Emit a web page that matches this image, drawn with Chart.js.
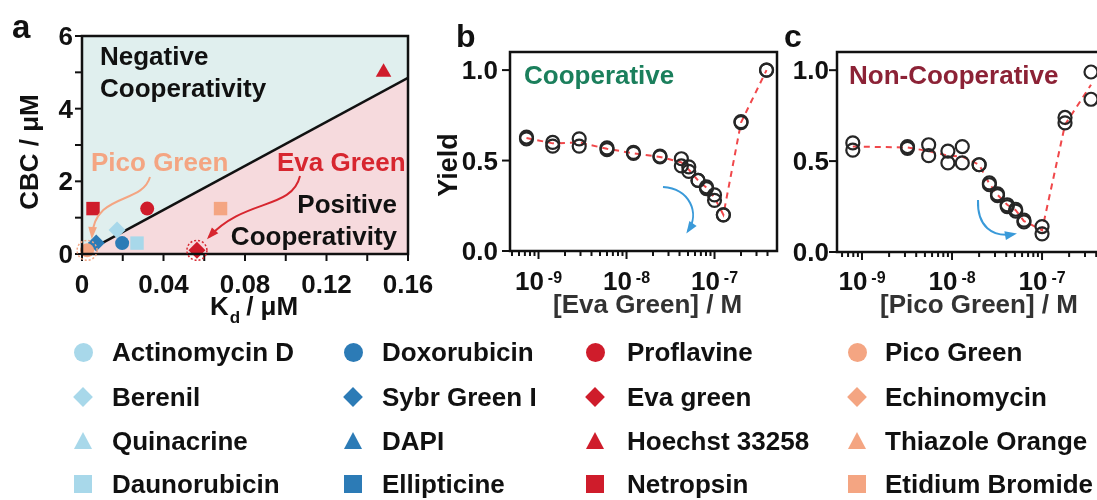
<!DOCTYPE html>
<html lang="en">
<head>
<meta charset="UTF-8">
<title>Cooperativity of DNA binders</title>
<script src="https://cdn.jsdelivr.net/npm/chart.js"></script>
<style>
  body { margin:0; width:1097px; height:500px; overflow:hidden; background:#fff; position:relative;
         font-family:"Liberation Sans", Arial, sans-serif; }
  canvas { position:absolute; left:0; top:0; }
  .item { position:absolute; font-weight:bold; font-size:26px; line-height:30px; color:#111; white-space:nowrap; }
  .mk { position:absolute; }
</style>
</head>
<body>
<canvas id="chartA" width="1110" height="500"></canvas>
<canvas id="chartB" width="1110" height="500"></canvas>
<canvas id="chartC" width="1110" height="500"></canvas>
<div id="legend"></div>
<script>
// ---- panel a : [Kd (uM), CBC (uM)]
const hoechst      = [0.148, 5.0];
const netropsin    = [0.0054, 1.25];
const proflavine   = [0.032, 1.25];
const etidium      = [0.068, 1.25];
const sybrGreen    = [0.0070, 0.30];
const berenil      = [0.0172, 0.66];
const doxorubicin  = [0.0197, 0.30];
const daunorubicin = [0.027, 0.30];
const evaGreen     = [0.0564, 0.10];
const picoGreen    = [0.0025, 0.10];
const boundaryKd   = [0, 0.16];
const boundaryCbc  = [0, 4.85];
const aXTicks = [0, 0.04, 0.08, 0.12, 0.16];
const aYTicks = [0, 2, 4, 6];

// ---- panel b : Eva Green titration
const evaConc = [7.3e-10, 1.45e-9, 2.9e-9, 6.0e-9, 1.2e-8, 2.4e-8, 4.2e-8, 5.1e-8, 6.5e-8, 8.1e-8, 1.0e-7, 1.26e-7, 2.0e-7, 3.9e-7];
const evaRep1 = [0.63, 0.60, 0.62, 0.57, 0.54, 0.525, 0.51, 0.465, 0.39, 0.355, 0.31, 0.20, 0.715, 1.0];
const evaRep2 = [0.62, 0.58, 0.58, 0.56, 0.545, 0.52, 0.47, 0.44, 0.39, 0.345, 0.28, 0.20, 0.71, 1.0];
const evaFit  = [0.625, 0.595, 0.60, 0.565, 0.54, 0.52, 0.49, 0.45, 0.39, 0.35, 0.295, 0.20, 0.71, 1.0];

// ---- panel c : Pico Green titration
const picoConc = [7.9e-10, 3.2e-9, 5.5e-9, 9.0e-9, 1.3e-8, 2.0e-8, 2.6e-8, 3.2e-8, 4.1e-8, 5.1e-8, 6.3e-8, 1.0e-7, 1.8e-7, 3.5e-7];
const picoRep1 = [0.60, 0.58, 0.59, 0.555, 0.58, 0.48, 0.38, 0.32, 0.26, 0.235, 0.175, 0.14, 0.74, 0.99];
const picoRep2 = [0.56, 0.57, 0.53, 0.49, 0.49, 0.48, 0.37, 0.31, 0.25, 0.225, 0.165, 0.10, 0.71, 0.84];
const picoFit  = [0.58, 0.575, 0.555, 0.53, 0.525, 0.48, 0.375, 0.315, 0.26, 0.23, 0.17, 0.12, 0.70, 0.92];
const yieldTicks = [0, 0.5, 1.0];
const decades = [-9, -8, -7];

// ---- legend
const legendNames = [
  ['Actinomycin D', 'Berenil', 'Quinacrine', 'Daunorubicin'],
  ['Doxorubicin', 'Sybr Green I', 'DAPI', 'Ellipticine'],
  ['Proflavine', 'Eva green', 'Hoechst 33258', 'Netropsin'],
  ['Pico Green', 'Echinomycin', 'Thiazole Orange', 'Etidium Bromide']
];

const LIGHT = '#a8d8ea', BLUE = '#2c7bb6', RED = '#cf1c2b', SALMON = '#f4a582';
const FONT = '"Liberation Sans", Arial, sans-serif';

function txt(ctx, s, x, y, size, color, align) {
  ctx.font = 'bold ' + size + 'px ' + FONT;
  ctx.fillStyle = color;
  ctx.textAlign = align || 'left';
  ctx.textBaseline = 'alphabetic';
  ctx.fillText(s, x, y);
  return ctx.measureText(s).width;
}

function arrow(ctx, p, color, w) {
  ctx.save();
  ctx.strokeStyle = color; ctx.fillStyle = color; ctx.lineWidth = w;
  ctx.beginPath();
  ctx.moveTo(p[0], p[1]);
  ctx.bezierCurveTo(p[2], p[3], p[4], p[5], p[6], p[7]);
  ctx.stroke();
  const a = Math.atan2(p[7] - p[5], p[6] - p[4]), L = 10, s = 0.45;
  ctx.beginPath();
  ctx.moveTo(p[6] + Math.cos(a) * 3, p[7] + Math.sin(a) * 3);
  ctx.lineTo(p[6] - L * Math.cos(a - s), p[7] - L * Math.sin(a - s));
  ctx.lineTo(p[6] - L * Math.cos(a + s), p[7] - L * Math.sin(a + s));
  ctx.closePath(); ctx.fill();
  ctx.restore();
}

function frame(ctx, ca) {
  ctx.save();
  ctx.strokeStyle = '#111'; ctx.lineWidth = 2.5;
  ctx.strokeRect(ca.left, ca.top, ca.right - ca.left, ca.bottom - ca.top);
  ctx.restore();
}

function tick(ctx, x1, y1, x2, y2) {
  ctx.beginPath(); ctx.moveTo(x1, y1); ctx.lineTo(x2, y2); ctx.stroke();
}

function drawA(chart) {
  const {ctx, chartArea: ca, scales: {x, y}} = chart;
  frame(ctx, ca);
  ctx.save();
  ctx.strokeStyle = '#111'; ctx.lineWidth = 2;
  for (let k = 0; k <= 8; k++) {
    const px = x.getPixelForValue(k * 0.02);
    tick(ctx, px, ca.bottom, px, ca.bottom + 7);
  }
  for (let k = 0; k <= 6; k++) {
    const py = y.getPixelForValue(k);
    tick(ctx, ca.left, py, ca.left - 7, py);
  }
  ctx.restore();
  aXTicks.forEach(v => txt(ctx, String(v), x.getPixelForValue(v), 293, 26, '#111', 'center'));
  aYTicks.forEach(v => txt(ctx, String(v), 73, y.getPixelForValue(v) + 9, 26, '#111', 'right'));

  // axis titles
  let w = txt(ctx, 'K', 210, 315, 26, '#111');
  const dw = txt(ctx, 'd', 210 + w + 1, 323, 17, '#111');
  txt(ctx, '/ μM', 210 + w + dw + 7, 315, 26, '#111');
  ctx.save();
  ctx.translate(38, 152); ctx.rotate(-Math.PI / 2);
  txt(ctx, 'CBC / μM', 0, 0, 26, '#111', 'center');
  ctx.restore();

  // annotations
  txt(ctx, 'Negative', 100, 65, 26, '#111');
  txt(ctx, 'Cooperativity', 100, 97, 26, '#111');
  txt(ctx, 'Positive', 397, 213, 26, '#111', 'right');
  txt(ctx, 'Cooperativity', 397, 245, 26, '#111', 'right');
  txt(ctx, 'Pico Green', 91, 171, 26, SALMON);
  txt(ctx, 'Eva Green', 277, 171, 26, '#d7262f');
  arrow(ctx, [150, 177, 142, 205, 95, 192, 92, 236], SALMON, 2);
  arrow(ctx, [300, 176, 292, 210, 245, 198, 209, 237], '#d7262f', 2);

  // dotted rings around highlighted binders
  ctx.save();
  ctx.lineWidth = 1.5; ctx.setLineDash([2, 2]);
  [[evaGreen, '#d7262f'], [picoGreen, SALMON]].forEach(([p, c]) => {
    ctx.strokeStyle = c;
    ctx.beginPath();
    ctx.arc(x.getPixelForValue(p[0]), y.getPixelForValue(p[1]), 10, 0, Math.PI * 2);
    ctx.stroke();
  });
  ctx.restore();

  txt(ctx, 'a', 12, 38, 33, '#111');
}

function drawLog(chart, cfg) {
  const {ctx, chartArea: ca, scales: {x, y}} = chart;
  frame(ctx, ca);
  ctx.save();
  ctx.strokeStyle = '#111'; ctx.lineWidth = 2;
  for (let e = -10; e <= -6; e++) {
    for (let k = 1; k <= 9; k++) {
      const px = x.getPixelForValue(k * Math.pow(10, e));
      if (px < ca.left + 1 || px > ca.right - 1) continue;
      tick(ctx, px, ca.bottom, px, ca.bottom + (k === 1 ? 8 : 5));
    }
  }
  yieldTicks.forEach(v => {
    const py = y.getPixelForValue(v);
    tick(ctx, ca.left, py, ca.left - 8, py);
  });
  ctx.restore();
  yieldTicks.forEach(v => txt(ctx, v.toFixed(1), cfg.yLabelRight, y.getPixelForValue(v) + 9, 26, '#111', 'right'));
  decades.forEach(e => {
    const px = x.getPixelForValue(Math.pow(10, e));
    ctx.font = 'bold 26px ' + FONT;
    const w1 = ctx.measureText('10').width;
    ctx.font = 'bold 16px ' + FONT;
    const w2 = ctx.measureText(String(e)).width;
    const left = px - (w1 + 4 + w2) / 2;
    txt(ctx, '10', left, 290, 26, '#111');
    txt(ctx, String(e), left + w1 + 4, 283, 16, '#111');
  });
  txt(ctx, cfg.title, cfg.titleX, 313, 26, '#333');
  txt(ctx, cfg.note, cfg.noteX, 84, 26, cfg.noteColor);
  arrow(ctx, cfg.arrow, '#3a9ad9', 2);
  txt(ctx, cfg.letter, cfg.letterX, 47, 32, '#111');
  if (cfg.yTitle) {
    ctx.save();
    ctx.translate(457, 165); ctx.rotate(-Math.PI / 2);
    txt(ctx, 'Yield', 0, 0, 27, '#111', 'center');
    ctx.restore();
  }
}

const zip = (xs, ys) => xs.map((v, i) => ({x: v, y: ys[i]}));
const pt = (p) => [{x: p[0], y: p[1]}];

function baseOptions(pad, xScale, yScale) {
  return {
    responsive: false, animation: false, devicePixelRatio: 1, events: [],
    layout: {padding: pad},
    plugins: {legend: {display: false}, tooltip: {enabled: false}},
    scales: {x: Object.assign({display: false}, xScale), y: Object.assign({display: false}, yScale)}
  };
}

const markerRadius = {circle: 7, rectRot: 8.5, rect: 9.5, triangle: 9};
function marker(p, style, color) {
  return {data: pt(p), pointStyle: style, pointRadius: markerRadius[style],
          backgroundColor: color, borderColor: color, borderWidth: 0, order: 1, clip: false};
}

new Chart(document.getElementById('chartA'), {
  type: 'scatter',
  data: {datasets: [
    {type: 'line', data: zip(boundaryKd, boundaryCbc), fill: 'end', backgroundColor: '#e0efee',
     borderWidth: 0, pointRadius: 0, order: 6},
    {type: 'line', data: zip(boundaryKd, boundaryCbc), fill: 'start', backgroundColor: '#f6dadd',
     borderColor: '#111', borderWidth: 2.5, pointRadius: 0, order: 5},
    marker(picoGreen, 'circle', SALMON),
    marker(sybrGreen, 'rectRot', BLUE),
    marker(berenil, 'rectRot', LIGHT),
    marker(doxorubicin, 'circle', BLUE),
    marker(daunorubicin, 'rect', LIGHT),
    marker(netropsin, 'rect', RED),
    marker(proflavine, 'circle', RED),
    marker(etidium, 'rect', SALMON),
    marker(evaGreen, 'rectRot', RED),
    marker(hoechst, 'triangle', RED)
  ]},
  options: baseOptions({left: 82, top: 36, right: 1110 - 408, bottom: 500 - 254},
                       {type: 'linear', min: 0, max: 0.16}, {min: 0, max: 6}),
  plugins: [{id: 'decorA', afterDraw: drawA}]
});

function titration(id, conc, r1, r2, fit, pad, lmin, lmax, cfg) {
  const circ = (ys) => ({data: zip(conc, ys), pointStyle: 'circle', pointRadius: 6.5,
    backgroundColor: 'rgba(0,0,0,0)', borderColor: '#262626', borderWidth: 2.2, order: 1, clip: false});
  new Chart(document.getElementById(id), {
    type: 'scatter',
    data: {datasets: [
      {type: 'line', data: zip(conc, fit), borderColor: '#f0474a', borderWidth: 2, borderDash: [6, 5],
       pointRadius: 0, fill: false, order: 3},
      circ(r1), circ(r2)
    ]},
    options: baseOptions(pad, {type: 'logarithmic', min: Math.pow(10, lmin), max: Math.pow(10, lmax)},
                         {min: 0, max: 1.1}),
    plugins: [{id: 'decor' + id, afterDraw: (c) => drawLog(c, cfg)}]
  });
}

titration('chartB', evaConc, evaRep1, evaRep2, evaFit,
  {left: 510, top: 52, right: 1110 - 777, bottom: 500 - 251}, -9.324, -6.290,
  {title: '[Eva Green] / M', titleX: 553, note: 'Cooperative', noteX: 524, noteColor: '#1b7f5c',
   arrow: [663, 187, 690, 189, 700, 213, 688, 231], letter: 'b', letterX: 456, yLabelRight: 498, yTitle: true});

titration('chartC', picoConc, picoRep1, picoRep2, picoFit,
  {left: 837, top: 52, right: 10, bottom: 500 - 252}, -9.278, -6.356,
  {title: '[Pico Green] / M', titleX: 880, note: 'Non-Cooperative', noteX: 849, noteColor: '#8c2236',
   arrow: [978, 200, 977, 226, 992, 238, 1014, 234], letter: 'c', letterX: 784, yLabelRight: 829, yTitle: false});

// ---- legend (HTML)
const colX = [83, 353, 595, 857];
const textX = [112, 382, 627, 885];
const rowY = [352, 397, 441, 484];
const colColors = [LIGHT, BLUE, RED, SALMON];
const rowShapes = ['circle', 'diamond', 'triangle', 'square'];
const legend = document.getElementById('legend');
legendNames.forEach((col, c) => col.forEach((name, r) => {
  const m = document.createElement('div');
  m.className = 'mk';
  const cx = colX[c], cy = rowY[r], color = colColors[c];
  const shape = rowShapes[r];
  if (shape === 'circle') {
    Object.assign(m.style, {left: (cx - 9.5) + 'px', top: (cy - 9.5) + 'px', width: '19px', height: '19px',
      borderRadius: '50%', background: color});
  } else if (shape === 'diamond') {
    Object.assign(m.style, {left: (cx - 7) + 'px', top: (cy - 7) + 'px', width: '14px', height: '14px',
      transform: 'rotate(45deg)', background: color});
  } else if (shape === 'triangle') {
    Object.assign(m.style, {left: (cx - 9) + 'px', top: (cy - 9) + 'px', width: 0, height: 0,
      borderLeft: '9px solid transparent', borderRight: '9px solid transparent', borderBottom: '17px solid ' + color});
  } else {
    Object.assign(m.style, {left: (cx - 9) + 'px', top: (cy - 9) + 'px', width: '18px', height: '18px', background: color});
  }
  legend.appendChild(m);
  const t = document.createElement('div');
  t.className = 'item';
  t.textContent = name;
  t.style.left = textX[c] + 'px';
  t.style.top = (cy - 15) + 'px';
  legend.appendChild(t);
}));
</script>
</body>
</html>
